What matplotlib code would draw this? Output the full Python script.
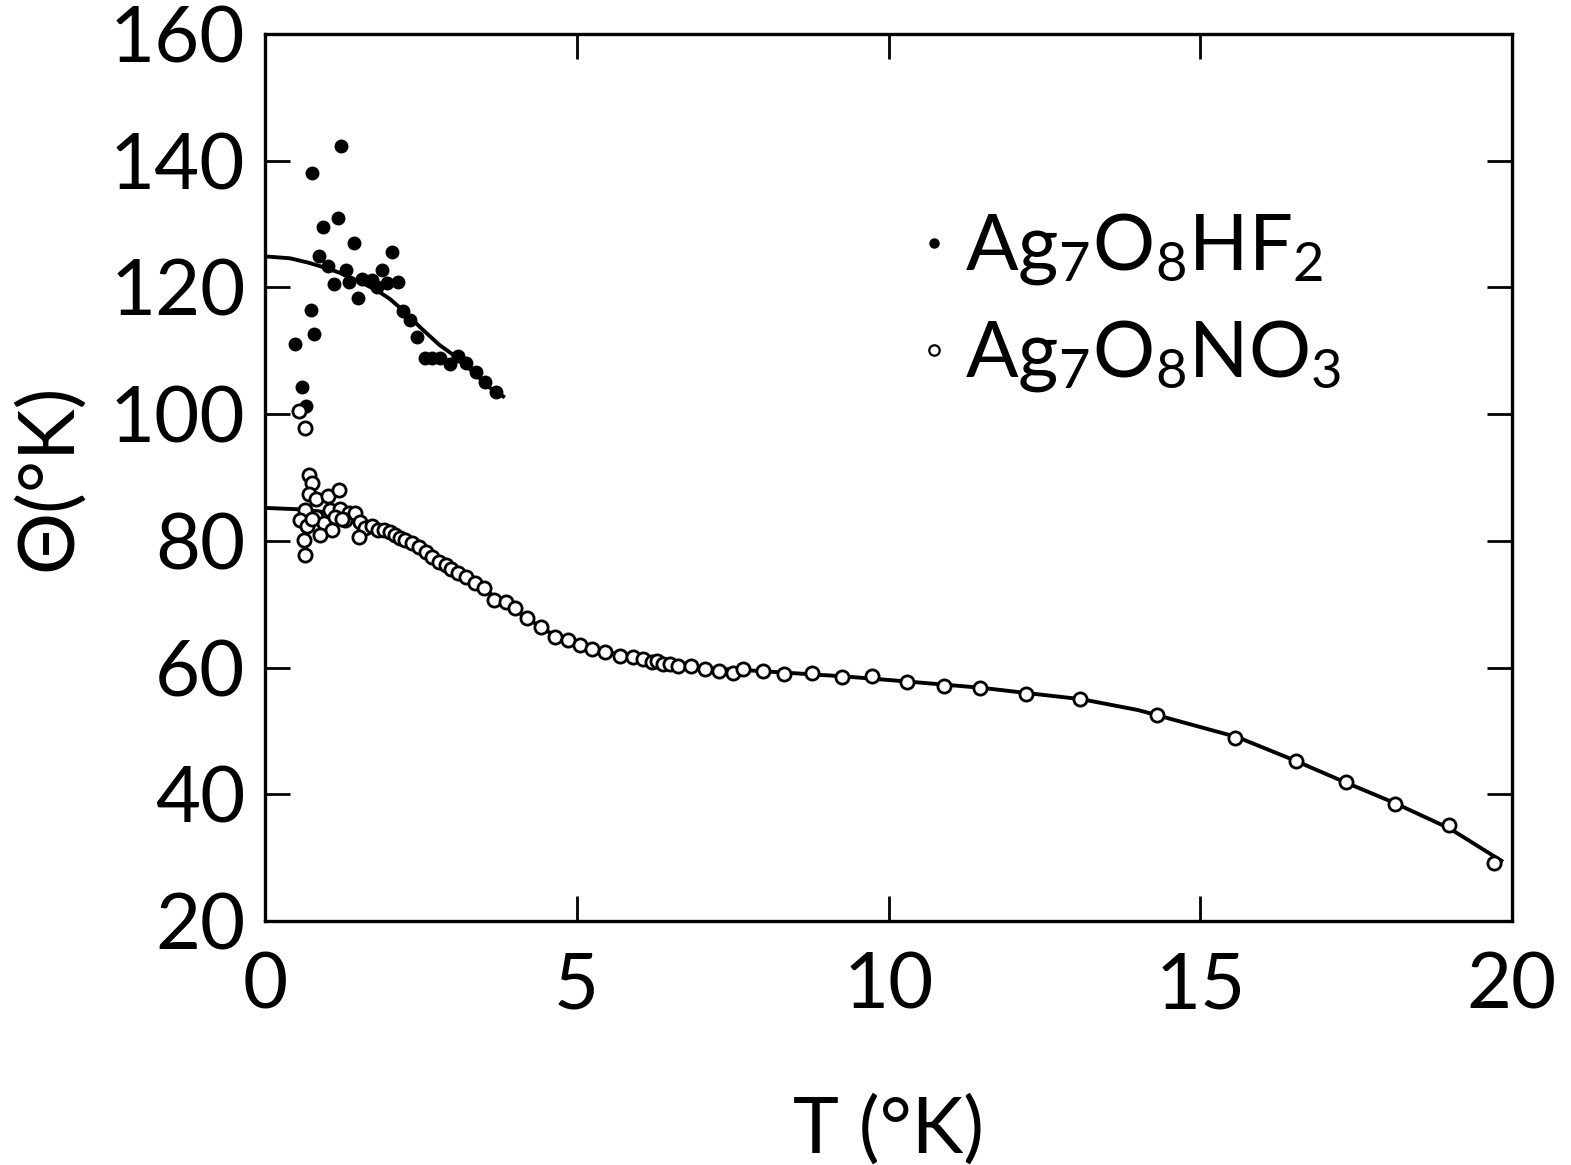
import matplotlib
matplotlib.use("Agg")
import matplotlib.pyplot as plt
from matplotlib.lines import Line2D

plt.rcParams['font.family'] = ['Lato', 'DejaVu Sans']
plt.rcParams['mathtext.fontset'] = 'custom'
plt.rcParams['mathtext.rm'] = 'Lato'
plt.rcParams['mathtext.it'] = 'Lato'
plt.rcParams['mathtext.default'] = 'regular'

# ---- data: Ag7O8HF2 (filled points) ----
hf2_T = [1.22, 0.76, 1.17, 0.93, 1.42, 2.04, 0.87, 1.01, 1.30, 1.87, 1.11, 1.35,
         1.56, 1.71, 1.79, 1.96, 2.13, 1.49, 0.73, 0.79, 0.48, 2.21, 2.32, 2.43,
         2.56, 2.68, 2.81, 2.96, 3.09, 3.23, 3.38, 3.53, 3.70, 0.60, 0.66]
hf2_Th = [142.3, 138.0, 131.0, 129.5, 127.0, 125.6, 125.0, 123.4, 122.7, 122.7, 120.6, 120.9,
          121.3, 121.1, 120.0, 120.7, 120.8, 118.3, 116.5, 112.6, 111.1, 116.3, 114.9, 112.1,
          108.8, 108.8, 108.8, 107.9, 109.2, 108.0, 106.7, 105.1, 103.5, 104.3, 101.3]

# fitted curve for Ag7O8HF2
hf2_line_T = [0.0, 0.4, 0.7, 1.0, 1.2, 1.5, 1.8, 2.0, 2.2, 2.5, 2.8, 3.0, 3.3, 3.6, 3.82]
hf2_line_Th = [124.9, 124.6, 123.9, 123.0, 122.3, 121.0, 119.5, 118.2, 116.5, 113.6,
               110.9, 109.5, 107.0, 104.2, 102.8]

# ---- data: Ag7O8NO3 (open points) ----
no3_T = [0.55, 0.64,
         0.70, 0.75, 0.70, 0.81, 1.01, 1.19, 0.64, 0.56, 0.67, 0.81, 0.94, 1.07, 0.89,
         1.05, 1.21, 1.34, 1.29, 1.45, 1.53, 1.61, 1.50, 0.63, 0.64, 1.13, 1.23, 0.75,
         1.72, 1.82, 1.91, 2.01, 2.09, 2.17, 2.25, 2.36, 2.47, 2.58, 2.68, 2.79, 2.90,
         2.98, 3.09, 3.23, 3.37, 3.52, 3.68, 3.86, 4.01, 4.21, 4.42, 4.65, 4.86, 5.05,
         5.24, 5.46, 5.70, 5.91, 6.07, 6.20, 6.28, 6.38, 6.49, 6.63, 6.84, 7.05, 7.28,
         7.50, 7.67, 7.99, 8.33, 8.77, 9.26, 9.74, 10.29, 10.89, 11.47, 12.20, 13.07,
         14.30, 15.56, 16.54, 17.33, 18.13, 18.99, 19.71]
no3_Th = [100.5, 97.8,
          90.4, 89.1, 87.4, 86.6, 87.1, 88.1, 84.9, 83.3, 82.3, 83.8, 82.8, 81.7, 80.9,
          84.9, 85.1, 84.4, 83.3, 84.4, 83.0, 82.0, 80.6, 80.1, 77.8, 83.8, 83.5, 83.5,
          82.3, 81.7, 81.7, 81.4, 80.9, 80.4, 80.1, 79.7, 79.0, 78.3, 77.5, 76.7, 76.2,
          75.6, 74.9, 74.3, 73.3, 72.6, 70.6, 70.4, 69.4, 67.8, 66.4, 64.9, 64.4, 63.5,
          63.0, 62.5, 61.9, 61.7, 61.4, 60.9, 61.1, 60.6, 60.5, 60.2, 60.2, 59.8, 59.4,
          59.1, 59.7, 59.4, 59.0, 59.1, 58.5, 58.6, 57.7, 57.1, 56.8, 55.9, 55.0,
          52.5, 48.9, 45.2, 41.9, 38.4, 35.1, 29.2]

# fitted curve for Ag7O8NO3
no3_line_T = [0.0, 0.5, 1.0, 1.4, 1.8, 2.2, 2.6, 3.0, 3.4, 3.8, 4.2, 4.6, 5.0, 5.5,
              6.0, 6.5, 7.0, 7.7, 8.5, 9.3, 10.3, 11.5, 12.2, 13.1, 14.0, 14.3, 15.6,
              16.5, 17.3, 18.1, 19.0, 19.83]
no3_line_Th = [85.2, 85.0, 84.5, 83.5, 82.2, 80.5, 78.3, 75.6, 73.0, 70.5, 67.8, 65.3,
               63.6, 62.4, 61.5, 60.5, 59.9, 59.6, 59.1, 58.6, 57.8, 56.8, 56.0, 55.0,
               53.3, 52.5, 49.0, 45.4, 42.0, 38.7, 34.6, 29.5]

x_ticks = [0, 5, 10, 15, 20]
y_ticks = [20, 40, 60, 80, 100, 120, 140, 160]
labels = [r'Ag$_7$O$_8$HF$_2$', r'Ag$_7$O$_8$NO$_3$']

fig = plt.figure(figsize=(15.71, 11.65), dpi=100)
ax = fig.add_axes([265/1571, 1 - 921/1165, (1512-265)/1571, (921-34)/1165])

ax.plot(hf2_line_T, hf2_line_Th, color='black', lw=2.8, zorder=2)
ax.plot(no3_line_T, no3_line_Th, color='black', lw=2.8, zorder=2)
ax.plot(hf2_T, hf2_Th, ls='none', marker='o', ms=9, mfc='black', mec='black', zorder=3)
ax.plot(no3_T, no3_Th, ls='none', marker='o', ms=9.5, mfc='white', mec='black', mew=2.0, zorder=3)

ax.set_xlim(0, 20)
ax.set_ylim(20, 160)
ax.set_xticks(x_ticks)
ax.set_yticks(y_ticks)
ax.set_xticklabels([str(v) for v in x_ticks])
ax.set_yticklabels([str(v) for v in y_ticks])
ax.tick_params(direction='in', length=18, width=2.0, top=True, right=True,
               labelsize=56, pad=14)
ax.tick_params(axis='x', pad=22)
for s in ax.spines.values():
    s.set_linewidth(2.4)

ax.set_xlabel('T (°K)', fontsize=56, labelpad=52)
ax.set_ylabel('Θ(°K)', fontsize=56, labelpad=18)

handles = [Line2D([], [], ls='none', marker='o', ms=6.5, mfc='black', mec='black'),
           Line2D([], [], ls='none', marker='o', ms=7.5, mfc='white', mec='black', mew=1.6)]
ax.legend(handles, labels, loc='upper left', bbox_to_anchor=(0.527, 0.80),
          frameon=False, fontsize=56, handlelength=0.3, handletextpad=0.25,
          labelspacing=0.4, borderpad=0, borderaxespad=0)

fig.savefig('out.png', dpi=100, facecolor='white')
